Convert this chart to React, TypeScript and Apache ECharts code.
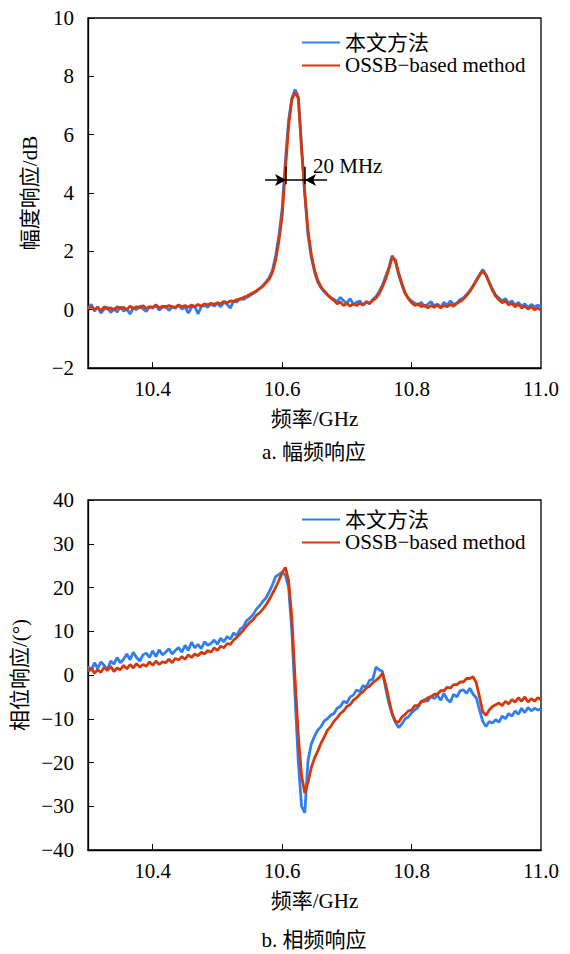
import React, { useEffect, useRef } from 'react';
import * as echarts from 'echarts';

// frequency grid (GHz), 10.300 … 11.000 in 5 MHz steps
const FREQ_START = 10.3;
const FREQ_STEP = 0.005;
const FREQ_COUNT = 141;
const freq: number[] = Array.from({ length: FREQ_COUNT }, (_, i) => +(FREQ_START + i * FREQ_STEP).toFixed(3));

const xLabelValues = [10.4, 10.6, 10.8, 11.0];
const xTickValues = [10.4, 10.6, 10.8];

const seriesNames = ['本文方法', 'OSSB−based method'];

// (a) amplitude response, dB
const ampProposed = [
  0.05, 0.18, -0.05, 0.10, -0.12, 0.02, 0.08, -0.10, 0.05, -0.08,
  0.10, -0.05, 0.02, -0.15, 0.06, 0.00, 0.12, 0.03, -0.06, 0.10,
  0.05, 0.15, -0.02, 0.08, 0.12, -0.03, 0.10, 0.05, 0.16, 0.02,
  0.10, -0.12, 0.08, 0.12, -0.15, 0.10, 0.15, 0.08, 0.20, 0.12,
  0.22, 0.10, 0.25, 0.18, 0.05, 0.30, 0.26, 0.38, 0.35, 0.42,
  0.48, 0.55, 0.62, 0.72, 0.82, 0.95, 1.10, 1.35, 1.85, 2.55,
  3.45, 5.10, 6.50, 7.25, 7.55, 7.30, 5.60, 3.95, 2.55, 1.80,
  1.30, 0.95, 0.75, 0.62, 0.50, 0.42, 0.35, 0.28, 0.42, 0.30,
  0.22, 0.38, 0.18, 0.25, 0.30, 0.15, 0.28, 0.20, 0.35, 0.45,
  0.62, 0.85, 1.15, 1.45, 1.85, 1.65, 1.20, 0.85, 0.55, 0.40,
  0.30, 0.22, 0.15, 0.25, 0.10, 0.18, 0.28, 0.12, 0.20, 0.08,
  0.25, 0.15, 0.30, 0.18, 0.22, 0.35, 0.40, 0.52, 0.65, 0.82,
  1.00, 1.20, 1.38, 1.20, 0.95, 0.70, 0.50, 0.40, 0.30, 0.38,
  0.22, 0.30, 0.15, 0.25, 0.12, 0.20, 0.08, 0.18, 0.10, 0.15,
  0.12,
];
const ampOssb = [
  0.02, 0.12, 0.00, 0.08, -0.04, 0.10, 0.02, 0.06, -0.02, 0.10,
  0.04, 0.08, 0.00, 0.12, 0.04, 0.10, 0.06, 0.14, 0.04, 0.10,
  0.08, 0.16, 0.06, 0.12, 0.08, 0.14, 0.10, 0.08, 0.16, 0.10,
  0.14, 0.08, 0.16, 0.10, 0.18, 0.12, 0.20, 0.16, 0.22, 0.18,
  0.24, 0.20, 0.28, 0.24, 0.30, 0.28, 0.34, 0.36, 0.42, 0.46,
  0.52, 0.58, 0.64, 0.72, 0.80, 0.92, 1.05, 1.28, 1.70, 2.35,
  3.20, 4.80, 6.30, 7.20, 7.45, 7.25, 5.50, 4.00, 2.70, 1.90,
  1.35, 1.00, 0.78, 0.64, 0.52, 0.40, 0.32, 0.20, 0.26, 0.14,
  0.22, 0.12, 0.20, 0.14, 0.22, 0.16, 0.26, 0.22, 0.32, 0.40,
  0.55, 0.78, 1.05, 1.40, 1.80, 1.70, 1.25, 0.90, 0.58, 0.38,
  0.24, 0.14, 0.20, 0.10, 0.16, 0.06, 0.14, 0.08, 0.16, 0.06,
  0.14, 0.10, 0.18, 0.12, 0.22, 0.28, 0.36, 0.48, 0.62, 0.80,
  1.00, 1.18, 1.32, 1.18, 0.92, 0.66, 0.46, 0.34, 0.24, 0.30,
  0.16, 0.22, 0.10, 0.18, 0.06, 0.12, 0.02, 0.10, 0.00, 0.06,
  -0.02,
];

// (b) phase response, degrees
const phaseProposed = [
  2.0, 1.0, 2.8, 1.5, 3.0, 2.2, 1.2, 3.2, 2.5, 4.0,
  2.8, 3.6, 4.8, 3.5, 5.2, 4.0, 3.2, 4.6, 5.0, 4.0,
  5.5, 4.2, 5.8, 4.6, 5.2, 6.0, 4.8, 5.6, 6.3, 5.2,
  6.8, 5.6, 7.5, 6.2, 7.0, 6.0, 7.6, 6.8, 7.2, 8.0,
  7.0, 8.4, 7.6, 8.8, 8.2, 9.6, 9.0, 10.5, 11.0, 12.4,
  13.0, 13.8, 15.0, 15.8, 16.8, 17.6, 19.0, 20.6, 22.5, 23.0,
  23.5, 22.8, 20.0, 10.0, -5.0, -20.0, -30.0, -31.5, -19.5, -15.8,
  -14.0, -12.6, -11.8, -10.5, -10.0, -9.2, -8.8, -7.6, -7.2, -6.0,
  -6.4, -5.0, -4.6, -3.4, -3.8, -2.4, -2.8, -1.2, -1.0, 1.8,
  1.2, 0.8, -3.0, -6.5, -9.0, -10.8, -12.0, -11.2, -10.0, -9.6,
  -8.6, -8.0, -7.4, -6.2, -5.6, -6.0, -4.8, -5.4, -4.6, -5.8,
  -4.2, -5.6, -6.2, -4.4, -5.0, -3.6, -3.4, -4.2, -3.0, -4.4,
  -5.2, -8.0, -10.6, -11.8, -10.6, -11.0, -10.2, -10.8, -9.4, -10.0,
  -8.8, -9.4, -8.2, -9.0, -7.6, -8.6, -7.4, -8.2, -7.6, -8.0,
  -7.8,
];
const phaseOssb = [
  0.8, 1.6, 0.4, 1.2, 0.6, 1.8, 1.0, 2.0, 0.8, 1.6,
  1.2, 2.2, 1.4, 2.4, 1.6, 2.6, 1.8, 2.4, 2.0, 3.0,
  2.2, 3.2, 2.4, 3.0, 2.8, 3.6, 2.8, 3.8, 3.4, 4.2,
  3.6, 4.6, 4.0, 4.8, 4.4, 5.2, 4.8, 5.6, 5.2, 6.2,
  5.6, 6.6, 6.2, 7.2, 7.0, 8.0, 8.6, 9.4, 10.2, 11.2,
  12.0, 12.6, 13.6, 14.2, 15.0, 16.0, 17.2, 18.6, 20.0, 21.6,
  23.4, 24.6, 21.5, 13.0, -1.0, -14.0, -23.0, -27.0, -24.5, -21.2,
  -19.0, -17.4, -15.6, -14.2, -12.6, -11.8, -10.6, -9.8, -8.8, -8.2,
  -7.2, -6.8, -5.8, -5.2, -4.4, -3.8, -3.0, -2.6, -1.8, -1.2,
  -0.6, 0.4, -2.2, -5.6, -8.8, -10.6, -10.8, -9.6, -9.0, -8.2,
  -8.0, -7.0, -7.0, -6.0, -6.0, -5.2, -5.0, -4.4, -4.4, -3.6,
  -3.6, -2.8, -3.0, -2.2, -2.2, -1.6, -1.6, -0.8, -0.8, -0.4,
  -1.8, -5.0, -8.4, -9.2, -8.0, -7.2, -6.8, -6.4, -7.0, -6.0,
  -6.6, -5.6, -6.2, -5.2, -6.0, -5.0, -6.2, -5.4, -6.0, -5.2,
  -5.6,
];

// bandwidth marker (GHz, dB)
const bwLeft = 10.606;
const bwRight = 10.6354;
const bwLevel = 4.45;
const bwArrowFrom = [10.5736, 10.6694];
const bwBar = [4.3, 4.9];

const FONT = 'Liberation Serif, Noto Sans CJK SC, serif';
const BLUE = '#2F7EF2';
const RED = '#D5380C';

const fmtMinus = (v: number) => (v < 0 ? '\u2212' + Math.abs(v) : String(v));

export default function App() {
  const ref = useRef<HTMLDivElement>(null);
  useEffect(() => {
    if (!ref.current) return;
    const chart = echarts.init(ref.current, undefined, { renderer: 'svg' });
    const text = { fontFamily: FONT, fontSize: 21, color: '#000' };
    const xAxis = [0, 1].map((gi) => ({
      type: 'value',
      gridIndex: gi,
      min: 10.3,
      max: 11.0,
      name: '频率/GHz',
      nameLocation: 'middle',
      nameGap: 40,
      nameTextStyle: text,
      axisLine: { onZero: false, lineStyle: { color: '#000', width: 1.3 } },
      axisTick: { inside: true, length: 6, customValues: xTickValues, lineStyle: { color: '#000', width: 1 } },
      axisLabel: { ...text, margin: 10, customValues: xLabelValues, formatter: (v: number) => v.toFixed(1) },
      splitLine: { show: false },
    }));
    const yAxis = [
      {
        type: 'value', gridIndex: 0, min: -2, max: 10, interval: 2,
        name: '幅度响应/dB', nameLocation: 'middle', nameGap: 46, nameRotate: 90, nameTextStyle: text,
        axisLine: { onZero: false, lineStyle: { color: '#000', width: 1.3 } },
        axisTick: { inside: true, length: 6, lineStyle: { color: '#000' } },
        axisLabel: { ...text, margin: 14, formatter: fmtMinus },
        splitLine: { show: false },
      },
      {
        type: 'value', gridIndex: 1, min: -40, max: 40, interval: 10,
        name: '相位响应/(°)', nameLocation: 'middle', nameGap: 56, nameRotate: 90, nameTextStyle: text,
        axisLine: { onZero: false, lineStyle: { color: '#000', width: 1.3 } },
        axisTick: { inside: true, length: 6, lineStyle: { color: '#000' } },
        axisLabel: { ...text, margin: 14, formatter: fmtMinus },
        splitLine: { show: false },
      },
    ];
    const line = (name: string, color: string, xi: number, vals: number[], extra: any = {}) => ({
      type: 'line',
      name,
      xAxisIndex: xi,
      yAxisIndex: xi,
      data: freq.map((f, i) => [f, vals[i]]),
      symbol: 'none',
      lineStyle: { color, width: 2.8 },
      itemStyle: { color },
      ...extra,
    });
    const seg = (a: number[], b: number[], arrow: boolean) => [
      { coord: a, symbol: 'none' },
      { coord: b, symbol: arrow ? 'arrow' : 'none' },
    ];
    const markLine = {
      silent: true,
      symbolSize: [9, 11],
      label: { show: false },
      lineStyle: { color: '#000', width: 1.5, type: 'solid' },
      data: [
        seg([bwArrowFrom[0], bwLevel], [bwLeft, bwLevel], true),
        seg([bwArrowFrom[1], bwLevel], [bwRight, bwLevel], true),
        seg([bwLeft, bwLevel], [bwRight, bwLevel], false),
        seg([bwLeft, bwBar[1]], [bwLeft, bwBar[0]], false),
        seg([bwRight, bwBar[1]], [bwRight, bwBar[0]], false),
      ],
    };
    const legendBase = {
      orient: 'vertical',
      left: 297,
      icon: 'rect',
      itemWidth: 38,
      itemHeight: 2,
      itemGap: 2,
      textStyle: { ...text },
      data: seriesNames,
      selectedMode: false,
    };
    chart.setOption({
      animation: false,
      backgroundColor: '#fff',
      textStyle: { fontFamily: FONT },
      grid: [
        { left: 88, right: 29, top: 18, height: 350, show: true, borderColor: '#000', borderWidth: 1.3, backgroundColor: 'transparent' },
        { left: 88, right: 29, top: 500, height: 350, show: true, borderColor: '#000', borderWidth: 1.3, backgroundColor: 'transparent' },
      ],
      legend: [
        { ...legendBase, top: 27 },
        { ...legendBase, top: 504 },
      ],
      xAxis,
      yAxis,
      series: [
        line(seriesNames[0], BLUE, 0, ampProposed),
        line(seriesNames[1], RED, 0, ampOssb, { markLine }),
        line(seriesNames[0], BLUE, 1, phaseProposed),
        line(seriesNames[1], RED, 1, phaseOssb),
      ],
      graphic: [
        { type: 'text', left: 313, top: 155, style: { text: '20 MHz', font: `21px ${FONT}`, fill: '#000' } },
        { type: 'text', x: 314, y: 452, style: { text: 'a. 幅频响应', font: `21px ${FONT}`, fill: '#000', align: 'center', verticalAlign: 'middle' } },
        { type: 'text', x: 314, y: 940, style: { text: 'b. 相频响应', font: `21px ${FONT}`, fill: '#000', align: 'center', verticalAlign: 'middle' } },
      ],
    });
    return () => chart.dispose();
  }, []);
  return <div ref={ref} style={{ position: 'fixed', left: 0, top: 0, width: 570, height: 954, background: '#fff' }} />;
}
